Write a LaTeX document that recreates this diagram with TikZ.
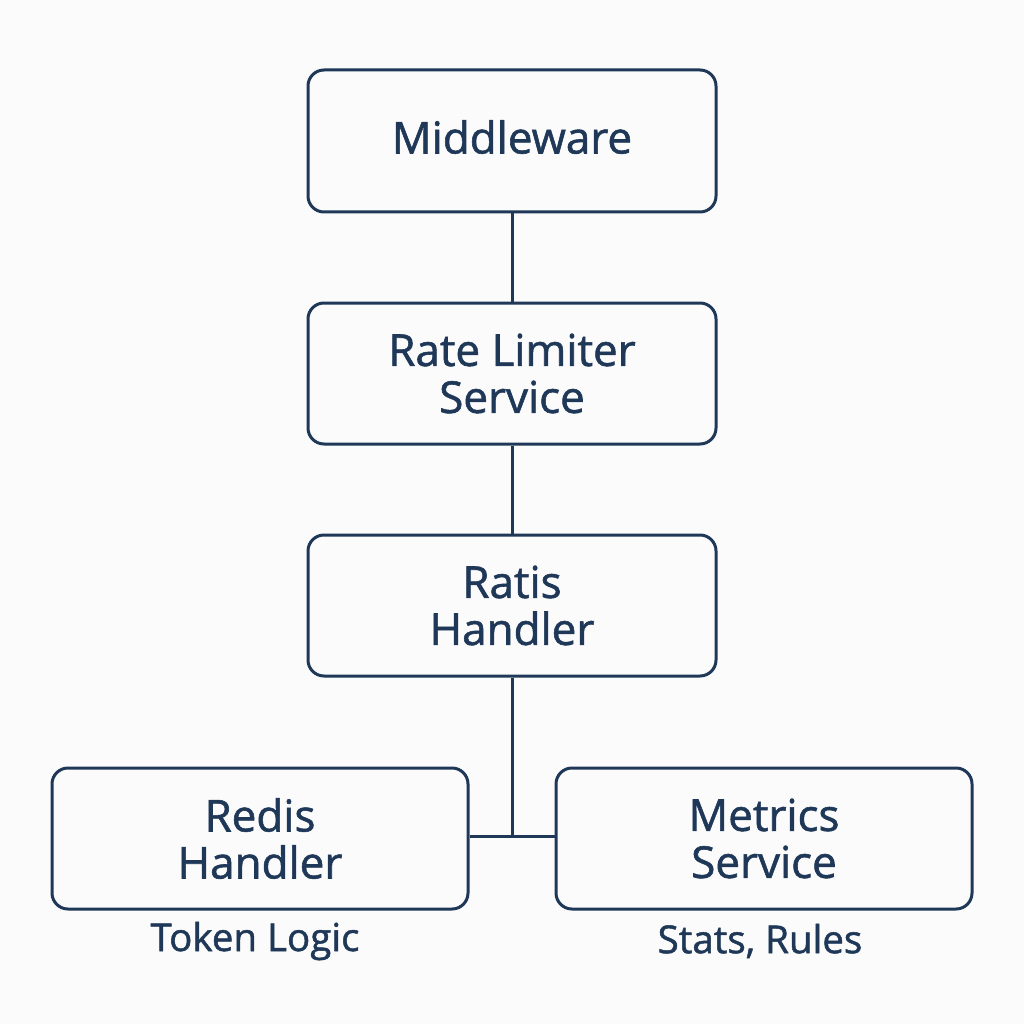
\documentclass[tikz,border=0pt]{standalone}
\usepackage{fontspec}
\setmainfont{Open Sans}
\newfontfamily\medfont{Open Sans}[FakeBold=1.3]
\definecolor{navy}{HTML}{1F3858}
\definecolor{bg}{HTML}{FBFBFC}
\begin{document}
\begin{tikzpicture}[x=1pt,y=-1pt,
  box/.style={draw=navy, line width=3pt, rounded corners=16pt, fill=bg,
    text=navy, align=center, inner sep=0pt,
    font=\medfont\fontsize{44}{47}\selectfont},
  conn/.style={draw=navy, line width=3pt},
  lbl/.style={text=navy, font=\medfont\fontsize{38.5}{40}\selectfont, inner sep=0pt}]
\fill[bg] (0,0) rectangle (1024,1024);
\useasboundingbox (0,0) rectangle (1024,1024);
\node[box, minimum width=408pt, minimum height=142pt] (mw) at (512,141) {};
\node[text=navy, font=\medfont\fontsize{44}{47}\selectfont, inner sep=0pt] (mwt) at (512,137) {Middleware};
\node[box, minimum width=408pt, minimum height=141pt] (rl) at (512,373.5) {Rate Limiter\\Service};
\node[box, minimum width=408pt, minimum height=141pt] (rh) at (512,605.5) {Ratis\\Handler};
\node[box, minimum width=416pt, minimum height=141pt] (red) at (260,838.5) {Redis\\Handler};
\node[box, minimum width=416pt, minimum height=141pt] (met) at (764,838.5) {Metrics\\Service};
\coordinate (j) at (512,836);
\draw[conn] (mw.south) -- (rl.north);
\draw[conn] (rl.south) -- (rh.north);
\draw[conn] (rh.south) -- (j);
\draw[conn] (red.east |- j) -- (met.west |- j);
\node[lbl] (tl) at (255,941) {Token Logic};
\node[lbl] (sr) at (760,941) {Stats, Rules};
\end{tikzpicture}
\end{document}
